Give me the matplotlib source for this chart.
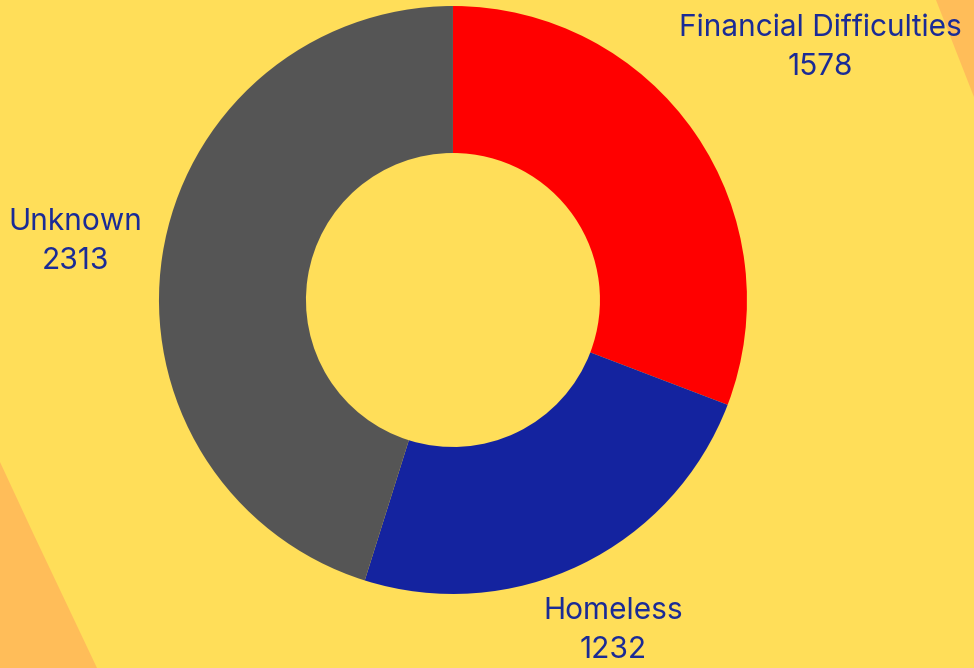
import numpy as np
import matplotlib.pyplot as plt
from matplotlib.patches import Polygon

labels = ["Financial Difficulties", "Homeless", "Unknown"]
values = [1578, 1232, 2313]
colors = ["#FF0000", "#14239F", "#555555"]
label_dist = [1.517, 1.25, 1.30]

plt.rcParams['font.family'] = ['Inter', 'DejaVu Sans']

fig = plt.figure(figsize=(9.74, 6.68), dpi=100)
fig.patch.set_facecolor("#FFDE59")

# orange background decoration (pixel coords, origin top-left)
W, H = 974, 668
def px(pts):
    return [(x / W, 1 - y / H) for x, y in pts]
fig.patches.append(Polygon(px([(0, 462), (33, 533), (97, 668), (0, 668)]),
                           closed=True, transform=fig.transFigure,
                           facecolor="#FFBD59", edgecolor="none", zorder=-5))
fig.patches.append(Polygon(px([(936, 0), (974, 0), (974, 97)]),
                           closed=True, transform=fig.transFigure,
                           facecolor="#FFBD59", edgecolor="none", zorder=-5))

ax = fig.add_axes([0.1632, 0.1108, 0.6037, 0.8802])
ax.set_facecolor("none")
wedges, _ = ax.pie(values, colors=colors, startangle=90, counterclock=False,
                   radius=1.0, wedgeprops=dict(width=0.5, edgecolor="none"))
ax.set_xlim(-1, 1)
ax.set_ylim(-1, 1)
ax.set_aspect("equal")
ax.axis("off")

for w, lab, val, d in zip(wedges, labels, values, label_dist):
    ang = np.deg2rad((w.theta1 + w.theta2) / 2)
    ax.text(d * np.cos(ang), d * np.sin(ang), f"{lab}\n{val}",
            ha="center", va="center", fontsize=21.5, color="#1A2B96",
            linespacing=1.5, clip_on=False, zorder=10)

fig.savefig("out.png", dpi=100, facecolor=fig.get_facecolor())
